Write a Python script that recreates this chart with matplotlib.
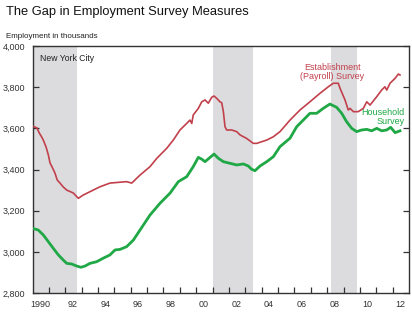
import numpy as np
import matplotlib
matplotlib.use("Agg")
import matplotlib.pyplot as plt

# ---- data (thousands of jobs, New York City) ----
est_year = [1990.00, 1990.27, 1990.41, 1990.56, 1990.66, 1990.83, 1990.97, 1991.07,
            1991.23, 1991.37, 1991.51, 1991.68, 1991.88, 1992.09, 1992.49, 1992.80,
            1993.10, 1993.71, 1994.12, 1994.73, 1995.75, 1996.06, 1996.57, 1997.18,
            1997.59, 1998.20, 1998.60, 1999.01, 1999.42, 1999.62, 1999.73, 1999.82,
            2000.13, 2000.34, 2000.54, 2000.74, 2000.95, 2001.09, 2001.25, 2001.45,
            2001.56, 2001.66, 2001.76, 2001.86, 2002.17, 2002.47, 2002.68, 2003.08,
            2003.49, 2003.70, 2004.00, 2004.31, 2004.71, 2005.12, 2005.73, 2006.34,
            2006.95, 2007.56, 2008.07, 2008.38, 2008.68, 2008.79, 2009.09, 2009.29,
            2009.40, 2009.60, 2009.90, 2010.21, 2010.42, 2010.62, 2011.03, 2011.33,
            2011.53, 2011.64, 2011.84, 2012.15, 2012.35, 2012.45]
est_val = [3611, 3602, 3578, 3558, 3543, 3509, 3470, 3432,
           3407, 3383, 3349, 3334, 3315, 3300, 3286, 3260,
           3276, 3300, 3316, 3334, 3341, 3334, 3373, 3414,
           3454, 3503, 3543, 3592, 3624, 3640, 3624, 3665,
           3697, 3729, 3738, 3722, 3751, 3757, 3746, 3729,
           3724, 3681, 3608, 3592, 3592, 3584, 3568, 3551,
           3527, 3527, 3535, 3543, 3559, 3584, 3640, 3689,
           3729, 3770, 3802, 3819, 3819, 3794, 3738, 3689,
           3697, 3681, 3681, 3697, 3729, 3713, 3754, 3786,
           3802, 3786, 3819, 3843, 3864, 3859]

hh_year = [1990.00, 1990.35, 1990.66, 1990.97, 1991.27, 1991.58, 1991.88, 1992.09,
           1992.39, 1992.70, 1992.96, 1993.21, 1993.51, 1993.92, 1994.32, 1994.73,
           1995.04, 1995.35, 1995.75, 1996.16, 1996.57, 1997.18, 1997.79, 1998.40,
           1998.91, 1999.42, 1999.82, 2000.13, 2000.34, 2000.54, 2000.85, 2001.09,
           2001.36, 2001.66, 2002.07, 2002.48, 2002.88, 2003.18, 2003.39, 2003.59,
           2003.90, 2004.31, 2004.71, 2005.12, 2005.73, 2006.14, 2006.54, 2006.95,
           2007.36, 2007.76, 2008.17, 2008.58, 2008.89, 2009.19, 2009.50, 2009.80,
           2010.11, 2010.42, 2010.72, 2011.03, 2011.33, 2011.64, 2011.88, 2012.15,
           2012.45]
hh_val = [3114, 3106, 3082, 3049, 3017, 2985, 2960, 2944,
          2941, 2931, 2925, 2931, 2944, 2952, 2969, 2985,
          3009, 3012, 3025, 3057, 3106, 3179, 3236, 3285,
          3341, 3365, 3414, 3459, 3450, 3438, 3459, 3475,
          3454, 3438, 3430, 3422, 3427, 3417, 3401, 3394,
          3417, 3438, 3462, 3511, 3552, 3608, 3640, 3673,
          3673, 3697, 3718, 3702, 3673, 3632, 3600, 3584,
          3592, 3595, 3588, 3600, 3588, 3592, 3605, 3579,
          3588]

recessions = [(1990.0, 1992.7), (2001.05, 2003.45), (2008.25, 2009.8)]
yticks = [2800, 3000, 3200, 3400, 3600, 3800, 4000]
xlabel_years = [1990, 1992, 1994, 1996, 1998, 2000, 2002, 2004, 2006, 2008, 2010, 2012]
xlabels = ["1990", "92", "94", "96", "98", "00", "02", "04", "06", "08", "10", "12"]

RED = "#c1404b"
GREEN = "#1fa845"

plt.rcParams.update({"font.family": "Liberation Sans"})

fig = plt.figure(figsize=(4.12, 3.31), dpi=100)
ax = fig.add_axes([32.5 / 412, 38 / 331, 376.5 / 412, 247 / 331])

for a, b in recessions:
    ax.axvspan(a, b, color="#dcdcdf", lw=0, zorder=0)

ax.plot(est_year, est_val, color=RED, lw=1.2, zorder=3)
ax.plot(hh_year, hh_val, color=GREEN, lw=2.0, zorder=3)

ax.set_xlim(1990, 2013)
ax.set_ylim(2800, 4000)

# year-boundary ticks, labels centred in the year
ax.set_xticks(np.arange(1991, 2013))
ax.set_xticklabels([])
ax.set_xticks([y + 0.45 for y in xlabel_years], minor=True)
ax.set_xticklabels(xlabels, minor=True)
ax.tick_params(axis="x", which="major", direction="in", length=4.5, width=0.9, color="#333333")
ax.tick_params(axis="x", which="minor", length=0, pad=5, labelsize=6.5, labelcolor="#333333")

ax.set_yticks(yticks)
ax.set_yticklabels([f"{v:,}" for v in yticks])
ax.tick_params(axis="y", direction="in", length=4.5, width=0.9, color="#333333",
               right=True, pad=5, labelsize=6.5, labelcolor="#333333")

for s in ax.spines.values():
    s.set_color("#333333")
    s.set_linewidth(1.0)

ax.text(1990.45, 3937, "New York City", fontsize=6.2, va="center", ha="left", color="#222222")
ax.text(2008.3, 3876, "Establishment\n(Payroll) Survey", fontsize=6.5, color=RED,
        ha="center", va="center", linespacing=1.0)
ax.text(2012.75, 3653, "Household\nSurvey", fontsize=6.5, color=GREEN,
        ha="right", va="center", linespacing=1.0, multialignment="right")

fig.text(6 / 412, 1 - 12 / 331, "The Gap in Employment Survey Measures", fontsize=9.3,
         ha="left", va="center", color="#111111")
fig.text(6 / 412, 1 - 36 / 331, "Employment in thousands", fontsize=5.8,
         ha="left", va="center", color="#222222")

fig.savefig("out.png", dpi=100)
